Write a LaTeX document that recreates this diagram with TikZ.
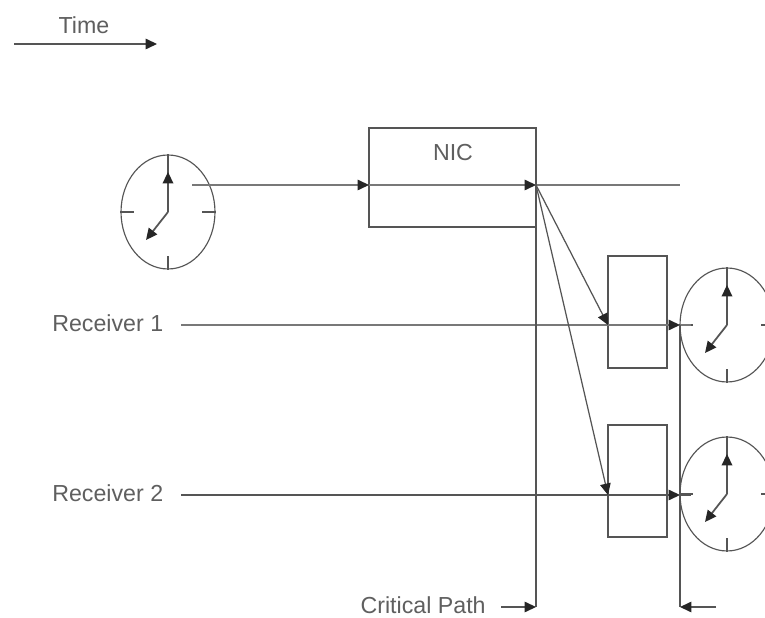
\documentclass[tikz,border=0pt]{standalone}
\usepackage{fontspec}
\setmainfont{Liberation Sans}
\usetikzlibrary{shapes.geometric, arrows.meta, calc}
\definecolor{mydark}{RGB}{85,85,85}
\definecolor{mylight}{RGB}{120,120,120}
\definecolor{mytext}{RGB}{95,95,95}
\tikzset{
  clockface/.style={ellipse, draw=mydark, line width=0.65pt, minimum width=1.88cm, minimum height=2.28cm, inner sep=0pt},
  cell/.style={rectangle, draw=mydark, line width=0.8pt, minimum width=1.18cm, minimum height=2.24cm, inner sep=0pt},
  label/.style={font=\fontsize{13.2}{15}\selectfont, text=mytext, inner sep=0pt},
  arrow/.style={-{Triangle[length=6.5pt,width=6pt,color=black!85]}, line width=0.7pt, color=mydark},
  line/.style={line width=0.7pt, color=mydark}
}

\begin{document}
\begin{tikzpicture}[x=0.02cm, y=-0.02cm]
  \clip (0,0) rectangle (765,618);
  \fill[white] (0,0) rectangle (765,618);

  % Time
  \coordinate (timeL) at (14,44);
  \coordinate (timeR) at (157,44);
  \draw[arrow] (timeL) -- (timeR);
  \node[label] (timeT) at (84,25) {Time};

  % Clocks
  \foreach \name/\cx/\cy in {clockA/168/212, clockB/727/325, clockC/727/494} {
    \node[clockface] (\name) at (\cx,\cy) {};
    \draw[line, line width=1pt] (\name.north) -- ++(0,20);
    \draw[line] (\name.south) -- ++(0,-14);
    \draw[line] (\name.west) -- ++(14,0);
    \draw[line] (\name.east) -- ++(-14,0);
    \draw[arrow, line width=1pt] (\name.center) -- ++(0,-40);
    \draw[arrow, line width=1pt] (\name.center) -- ++(-22,28);
  }

  % NIC
  \node[cell, minimum width=3.34cm, minimum height=1.98cm] (nic) at (452.5,177.5) {};
  \node[label] (nicT) at (453,153) {NIC};
  \coordinate (start) at (192,185);
  \coordinate (nicIn) at (369,185);
  \coordinate (nicOut) at (536,185);
  \coordinate (endT) at (680,185);
  \draw[arrow, color=mylight] (start) -- (nicIn);
  \draw[arrow, color=mylight] (nicIn) -- (nicOut);
  \draw[line, color=mylight] (nicOut) -- (endT);

  % Receivers
  \node[cell] (rxA) at (637.5,312) {};
  \node[cell] (rxB) at (637.5,481) {};
  \node[label, anchor=west] (recvA) at (52,323) {Receiver 1};
  \node[label, anchor=west] (recvB) at (52,493) {Receiver 2};
  \foreach \n/\ypos/\tone in {A/325/mylight, B/495/mydark} {
    \coordinate (in\n) at (608,\ypos);
    \coordinate (out\n) at (680,\ypos);
    \draw[line, color=\tone] (181,\ypos) -- (in\n);
    \draw[arrow, color=\tone] (in\n) -- (out\n);
    \draw[line, color=\tone] (out\n) -- ++(11,0);
    \draw[arrow] (nicOut) -- (in\n);
  }

  % Critical path
  \node[label, anchor=east] (critT) at (486,605) {Critical Path};
  \coordinate (pathL) at (536,607);
  \coordinate (pathR) at (680,607);
  \draw[line] (536,128) -- (pathL);
  \draw[line] (outA) -- (pathR);
  \draw[arrow] (501,607) -- (pathL);
  \draw[arrow] (716,607) -- (pathR);
\end{tikzpicture}
\end{document}
